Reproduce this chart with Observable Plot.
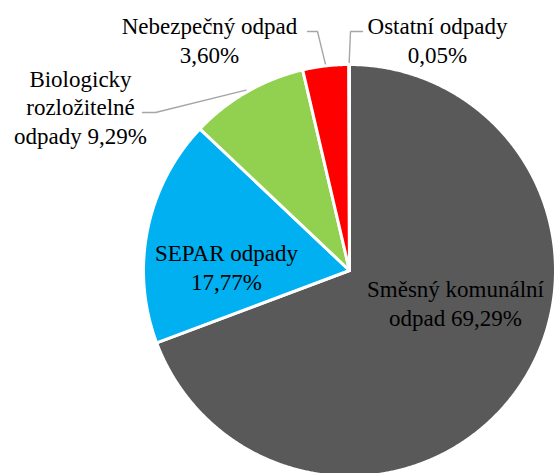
<!DOCTYPE html>
<html><head><meta charset="utf-8">
<script src="https://cdn.jsdelivr.net/npm/d3@7"></script>
<script src="https://cdn.jsdelivr.net/npm/@observablehq/plot@0.6"></script>
<style>
body{margin:0;background:#fff}
</style>
</head><body><div id="chart"></div>
<script>
// ---- data ----
const categories = ["Směsný komunální odpad", "SEPAR odpady", "Biologicky rozložitelné odpady", "Nebezpečný odpad", "Ostatní odpady"];
const values = [69.29, 17.77, 9.29, 3.60, 0.05];
const labels = ["Směsný komunální\nodpad 69,29%", "SEPAR odpady\n17,77%", "Biologicky\nrozložitelné\nodpady 9,29%", "Nebezpečný odpad\n3,60%", "Ostatní odpady\n0,05%"];
const colors = ["#595959", "#00B0F0", "#92D050", "#FF0000", "#FFC000"];

// ---- layout (pixel offsets relative to pie centre, y up) ----
const R = 206;
const labelPos = [[106, -32], [-123, 4], [-269, 164], [-140, 231], [88, 231]];
const leaderElbow = [null, null, [[-207, 158], [-194, 158]], [[-42, 239], [-32, 239]], [[13, 239], [1, 239]]];
const FONT = "Liberation Serif, Times New Roman, DejaVu Serif, Noto Serif, serif";

// ---- build slices ----
const arcs = d3.pie().sort(null).value(d => d)(values);
const piePts = [];
arcs.forEach((a, i) => {
  const cat = categories[i];
  piePts.push({cat, x: 0, y: 0});
  const n = Math.max(2, Math.ceil((a.endAngle - a.startAngle) / 0.005));
  for (let k = 0; k <= n; k++) {
    const t = a.startAngle + (a.endAngle - a.startAngle) * k / n;
    piePts.push({cat, x: R * Math.sin(t), y: R * Math.cos(t)});
  }
  piePts.push({cat, x: 0, y: 0});
});

const labelData = labels.map((t, i) => ({text: t, x: labelPos[i][0], y: labelPos[i][1]}));

const leaderPts = [];
arcs.forEach((a, i) => {
  if (!leaderElbow[i]) return;
  const m = (a.startAngle + a.endAngle) / 2;
  leaderElbow[i].forEach(p => leaderPts.push({cat: categories[i], x: p[0], y: p[1]}));
  leaderPts.push({cat: categories[i], x: (R + 2) * Math.sin(m), y: (R + 2) * Math.cos(m)});
});

const chart = Plot.plot({
  width: 554,
  height: 473,
  margin: 0,
  x: {domain: [-349, 205], axis: null},
  y: {domain: [-203, 270], axis: null},
  color: {domain: categories, range: colors},
  style: {background: "#fff", fontFamily: FONT},
  marks: [
    Plot.line(piePts, {x: "x", y: "y", z: "cat", fill: "cat", stroke: "white", strokeWidth: 3, strokeLinejoin: "round"}),
    Plot.line(leaderPts, {x: "x", y: "y", z: "cat", stroke: "#A6A6A6", strokeWidth: 1.4, strokeLinejoin: "miter"}),
    Plot.text(labelData, {x: "x", y: "y", text: "text", fontFamily: FONT, fontSize: 23, lineHeight: 1.22, fill: "#000"})
  ]
});
document.getElementById("chart").appendChild(chart);
</script>
</body></html>
